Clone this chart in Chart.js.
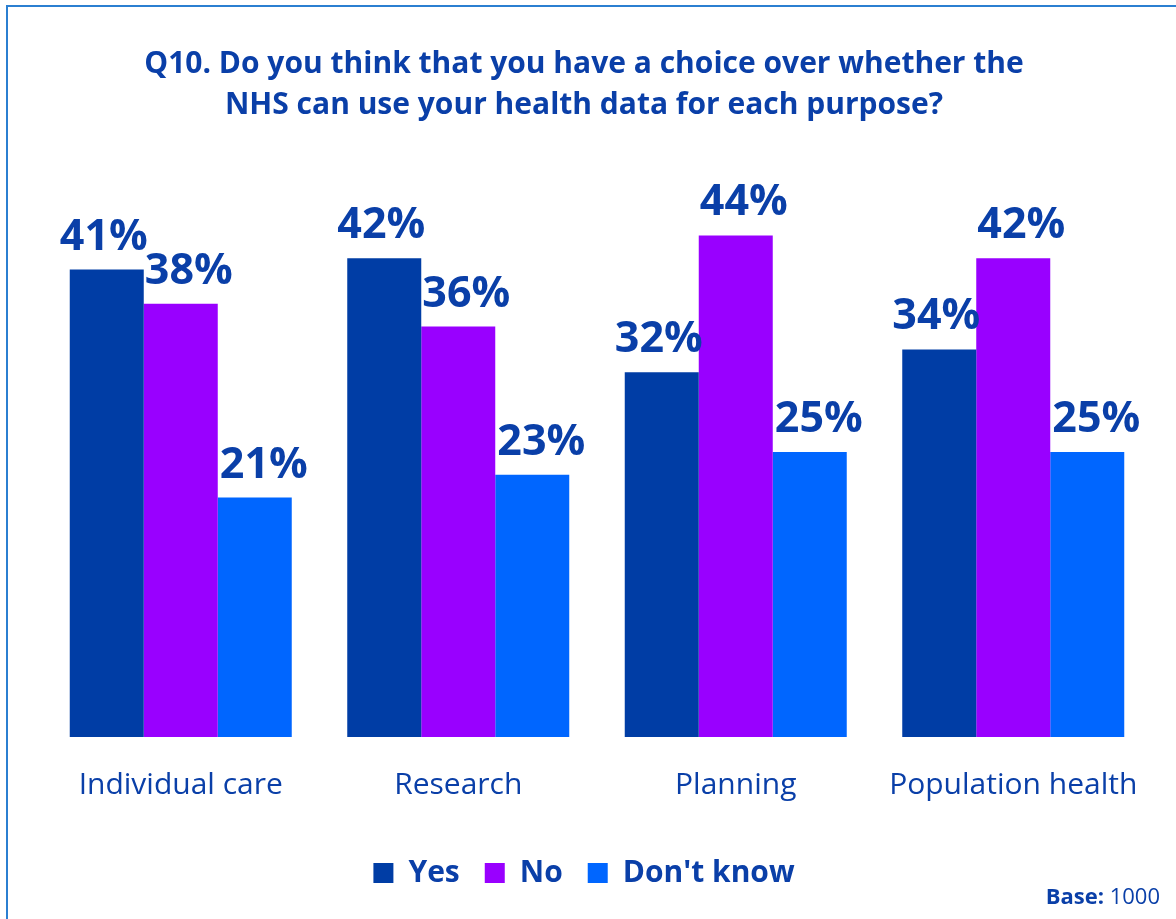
<!DOCTYPE html>
<html>
<head>
<meta charset="utf-8">
<title>Q10 health data choice</title>
<script src="https://cdn.jsdelivr.net/npm/chart.js@4.4.1/dist/chart.umd.min.js"></script>
<style>
  html, body { margin: 0; padding: 0; background: #fff; }
  #wrap { position: relative; width: 1176px; height: 919px; overflow: hidden; }
  #frame {
    position: absolute; left: 6px; top: 5px; width: 1300px; height: 1100px;
    border: 2px solid #2b7fd1; box-sizing: border-box;
  }
  #chart { position: absolute; left: 0; top: 0; }
</style>
</head>
<body>
<div id="wrap">
  <div id="frame"></div>
  <canvas id="chart" width="1176" height="919"></canvas>
</div>
<script>
// survey answers, % of respondents
const purposes = ["Individual care", "Research", "Planning", "Population health"];
const yesPct = [41, 42, 32, 34];
const noPct = [38, 36, 44, 42];
const dontKnowPct = [21, 23, 25, 25];
const seriesNames = ["Yes", "No", "Don't know"];
const baseCount = 1000;

const TEXT_BLUE = "#0a3fa8";
const FONT = "'Open Sans', 'Noto Sans', sans-serif";

// percentage labels above each bar (nudged a little sideways per series)
const valueLabels = {
  id: "valueLabels",
  afterDatasetsDraw(chart) {
    const ctx = chart.ctx;
    const shift = [-3, 8, 9];
    ctx.save();
    ctx.font = `bold 43px ${FONT}`;
    ctx.fillStyle = TEXT_BLUE;
    ctx.textAlign = "center";
    ctx.textBaseline = "alphabetic";
    chart.data.datasets.forEach((ds, i) => {
      chart.getDatasetMeta(i).data.forEach((bar, j) => {
        ctx.fillText(ds.data[j] + "%", bar.x + shift[i], bar.y - 20);
      });
    });
    ctx.restore();
  },
};

// "Base: 1000" note in the bottom right corner
const baseNote = {
  id: "baseNote",
  afterDraw(chart) {
    const ctx = chart.ctx;
    const bold = `bold 22px ${FONT}`;
    const normal = `22px ${FONT}`;
    const head = "Base: ";
    const tail = String(baseCount);
    ctx.save();
    ctx.fillStyle = TEXT_BLUE;
    ctx.textBaseline = "alphabetic";
    ctx.font = bold;
    const w1 = ctx.measureText(head).width;
    ctx.font = normal;
    const w2 = ctx.measureText(tail).width;
    const x = 1160 - w1 - w2;
    ctx.font = bold;
    ctx.fillText(head, x, 904);
    ctx.font = normal;
    ctx.fillText(tail, x + w1, 904);
    ctx.restore();
  },
};

new Chart(document.getElementById("chart"), {
  type: "bar",
  data: {
    labels: purposes,
    datasets: [
      { label: seriesNames[0], data: yesPct, backgroundColor: "#003da5" },
      { label: seriesNames[1], data: noPct, backgroundColor: "#9900ff" },
      { label: seriesNames[2], data: dontKnowPct, backgroundColor: "#0066ff" },
    ],
  },
  options: {
    responsive: false,
    animation: false,
    datasets: {
      bar: { barPercentage: 1.0, categoryPercentage: 0.8, borderWidth: 0 },
    },
    layout: { padding: { top: 20, left: 16, right: 24, bottom: 21 } },
    scales: {
      x: {
        grid: { display: false, drawTicks: false },
        border: { display: false },
        ticks: { color: TEXT_BLUE, padding: 30, font: { family: FONT, size: 30 } },
      },
      y: {
        min: 0,
        max: 50,
        grid: { display: false, drawTicks: false },
        border: { display: false },
        ticks: { display: false },
        afterFit(scale) { scale.width = 26; },
      },
    },
    plugins: {
      title: {
        display: true,
        text: [
          "Q10. Do you think that you have a choice over whether the",
          "NHS can use your health data for each purpose?",
        ],
        color: TEXT_BLUE,
        font: { family: FONT, size: 30, weight: "bold", lineHeight: 1.367 },
        padding: { top: 24, bottom: 41 },
      },
      legend: {
        position: "bottom",
        labels: {
          boxWidth: 20,
          boxHeight: 20,
          padding: 25,
          color: TEXT_BLUE,
          font: { family: FONT, size: 30, weight: "bold" },
        },
      },
      tooltip: { enabled: false },
    },
  },
  plugins: [valueLabels, baseNote],
});
</script>
</body>
</html>
